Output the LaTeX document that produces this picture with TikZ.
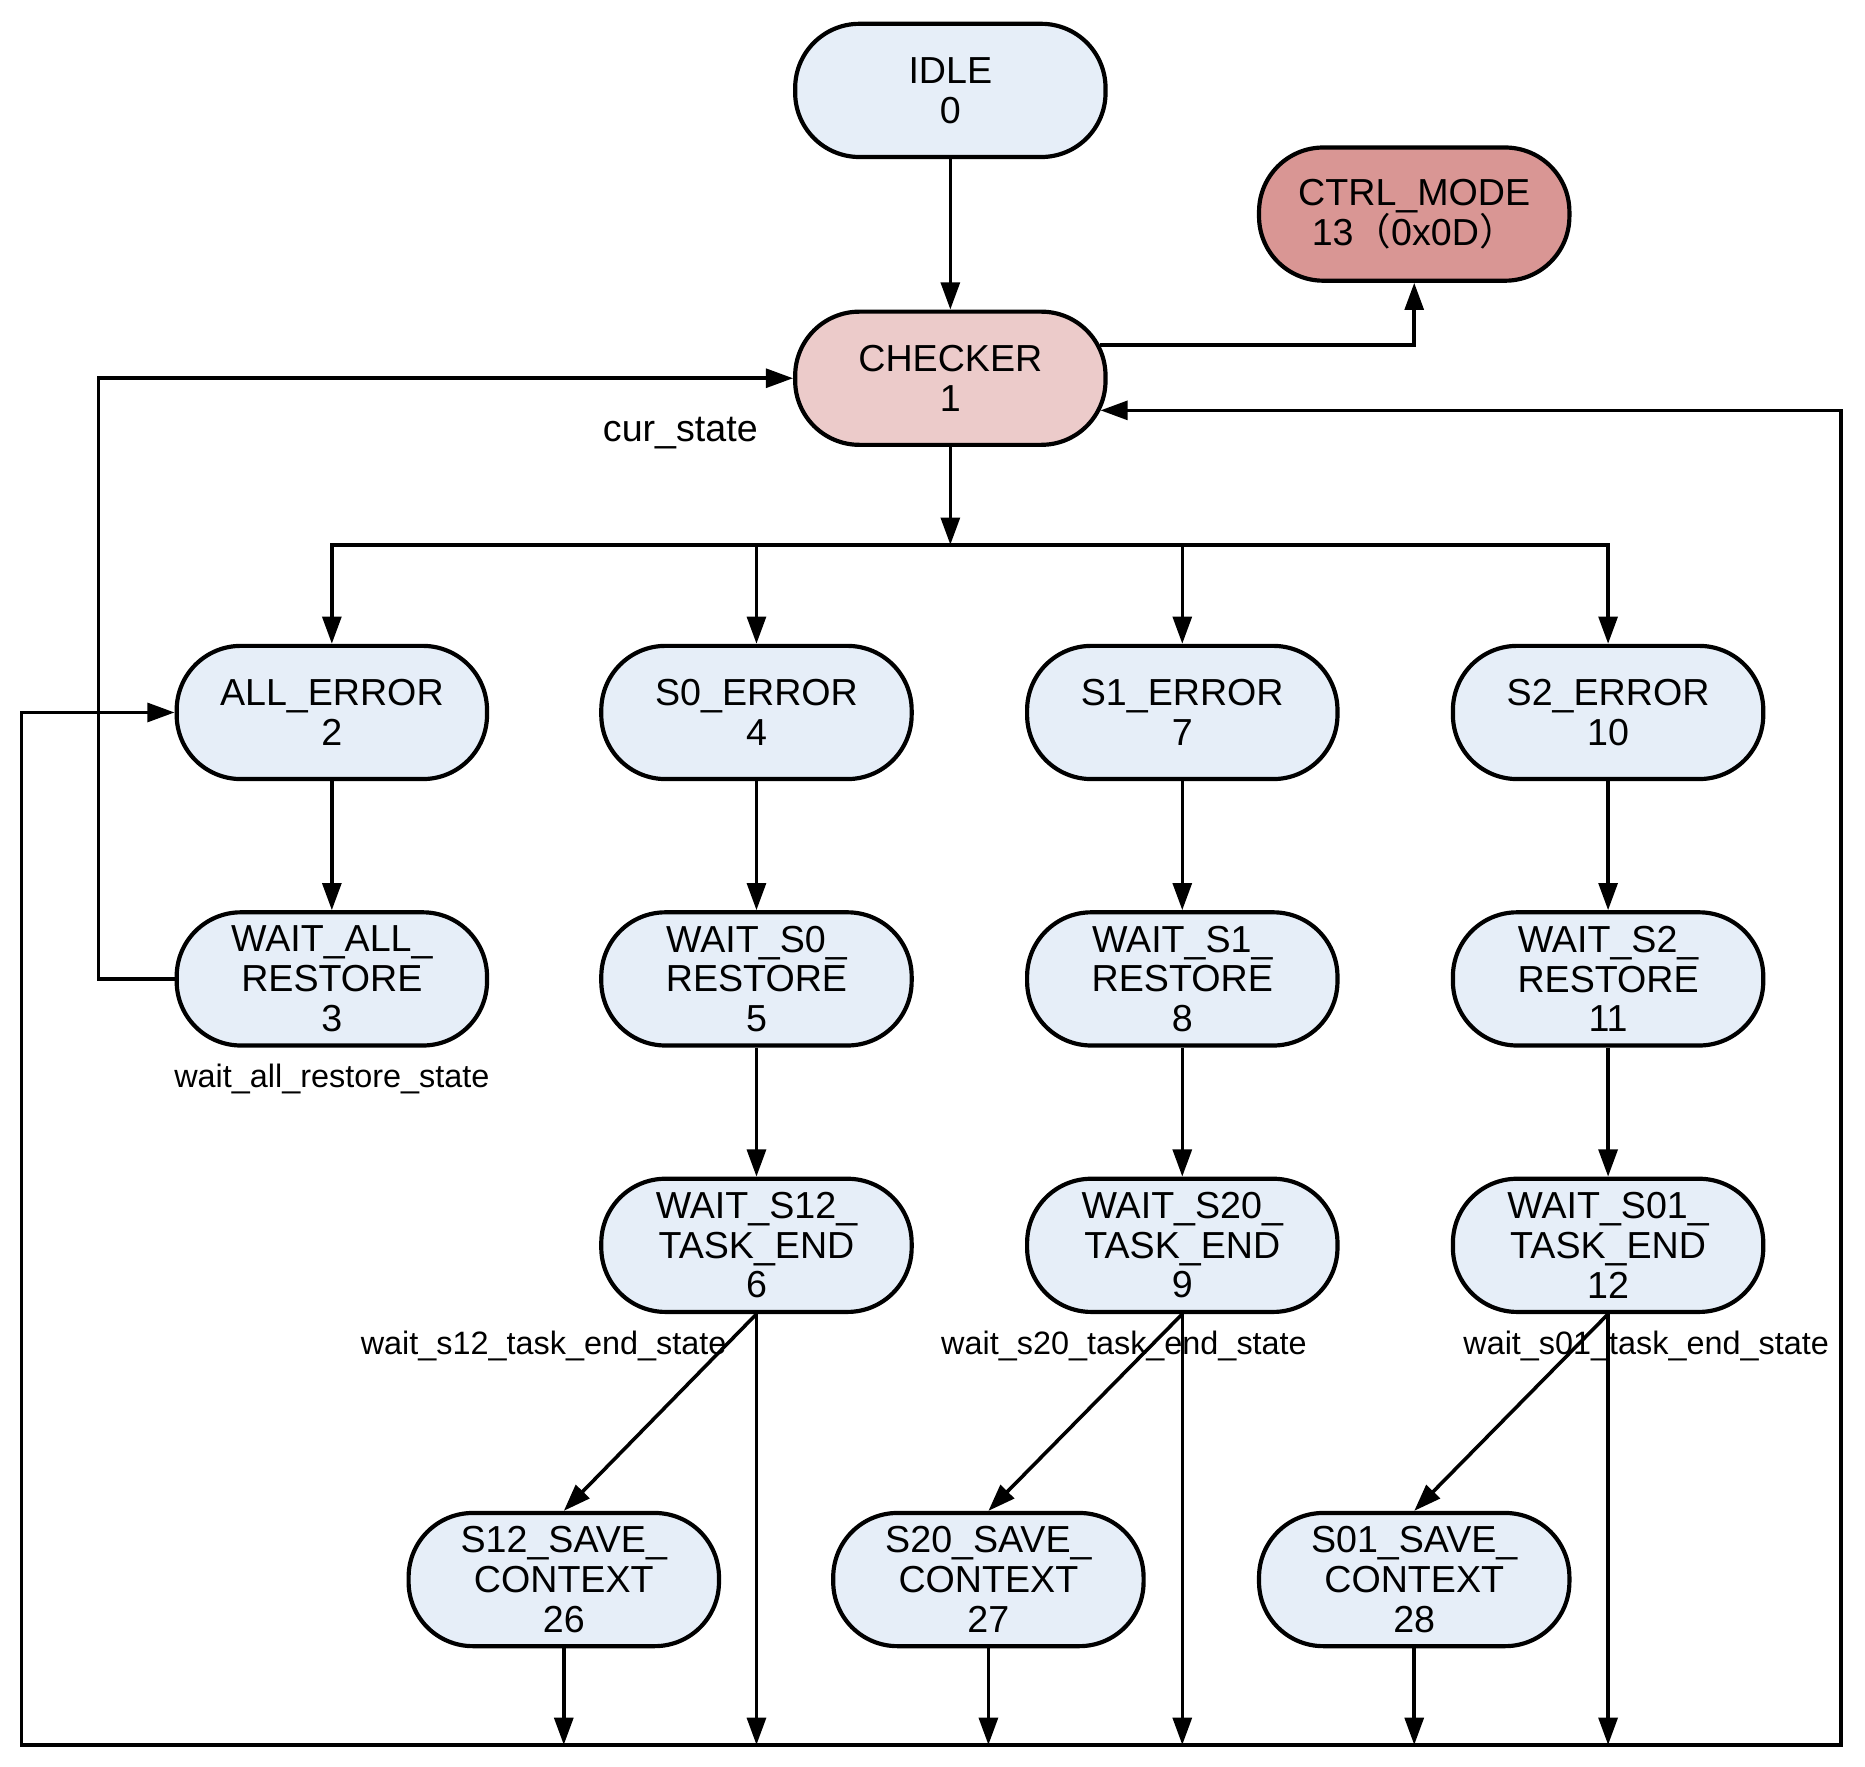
\documentclass[tikz,border=0pt]{standalone}
\usepackage{fontspec}
\setmainfont{Liberation Sans}
\newfontfamily\cjk{Noto Sans CJK SC}
\usetikzlibrary{arrows.meta,calc}
\definecolor{nblue}{HTML}{E6EEF8}
\definecolor{npink}{HTML}{ECCBCA}
\definecolor{nred}{HTML}{D99694}
\begin{document}
\begin{tikzpicture}[x=0.02cm,y=-0.02cm,
  state/.style={draw=black, line width=2pt, fill=nblue, rounded corners=1.08cm,
    minimum width=5.22cm, minimum height=2.24cm, align=center, inner sep=0pt,
    font=\fontsize{18}{19}\selectfont},
  conn/.style={line width=1.7pt, draw=black},
  arr/.style={conn, -{Triangle[length=13pt,width=9pt]}},
  lbl/.style={font=\fontsize{15.5}{17}\selectfont, anchor=base, inner sep=0pt}]
\useasboundingbox (0,0) rectangle (1568,1485);

% labels (drawn first, lines cross over them)
\node[lbl, font=\fontsize{18}{19}\selectfont] (lcur) at (572,371) {cur\_state};
\node[lbl] (lwar) at (279,914) {wait\_all\_restore\_state};
\node[lbl] (l12) at (457,1139) {wait\_s12\_task\_end\_state};
\node[lbl] (l20) at (945,1139) {wait\_s20\_task\_end\_state};
\node[lbl] (l01) at (1384,1139) {wait\_s01\_task\_end\_state};

% states
\node[state] (idle) at (799,76) {IDLE\\0};
\node[state, fill=npink] (chk) at (799,318) {CHECKER\\1};
\node[state, fill=nred] (ctrl) at (1189,180) {CTRL\_MODE\\13{\cjk （}0x0D{\cjk ）}};

\node[state] (e2) at (279,599) {ALL\_ERROR\\2};
\node[state] (e4) at (636,599) {S0\_ERROR\\4};
\node[state] (e7) at (994,599) {S1\_ERROR\\7};
\node[state] (e10) at (1352,599) {S2\_ERROR\\10};

\node[state] (w3) at (279,823) {WAIT\_ALL\_\\RESTORE\\3};
\node[state] (w5) at (636,823) {WAIT\_S0\_\\RESTORE\\5};
\node[state] (w8) at (994,823) {WAIT\_S1\_\\RESTORE\\8};
\node[state] (w11) at (1352,823) {WAIT\_S2\_\\RESTORE\\11};

\node[state] (w6) at (636,1047) {WAIT\_S12\_\\TASK\_END\\6};
\node[state] (w9) at (994,1047) {WAIT\_S20\_\\TASK\_END\\9};
\node[state] (w12) at (1352,1047) {WAIT\_S01\_\\TASK\_END\\12};

\node[state] (s26) at (474,1328) {S12\_SAVE\_\\CONTEXT\\26};
\node[state] (s27) at (831,1328) {S20\_SAVE\_\\CONTEXT\\27};
\node[state] (s28) at (1189,1328) {S01\_SAVE\_\\CONTEXT\\28};

% coordinates
\coordinate (split) at (799,458);
\coordinate (bl) at (18,1467);
\coordinate (br) at (1548,1467);
\coordinate (lx) at (83,0);
\coordinate (chkout) at ($(chk.east)+(-6,-28)$);
\coordinate (chkin) at ($(chk.east)+(-6,27)$);

% connectors
\draw[arr] (idle) -- (chk);
\draw[arr] (chkout) -| (ctrl.south);
\draw[arr] (chk) -- (split);
\draw[conn, line cap=rect] (e2.north |- split) -- (e10.north |- split);
\foreach \e in {e2,e4,e7,e10}{
  \draw[arr] (\e.north |- split) -- (\e.north);
}
\draw[arr] (e2) -- (w3);
\draw[arr] (e4) -- (w5);
\draw[arr] (w5) -- (w6);
\draw[arr] (e7) -- (w8);
\draw[arr] (w8) -- (w9);
\draw[arr] (e10) -- (w11);
\draw[arr] (w11) -- (w12);

\draw[arr] (w6.south) -- (s26.north);
\draw[arr] (w9.south) -- (s27.north);
\draw[arr] (w12.south) -- (s28.north);

\foreach \n in {s26,s27,s28,w6,w9,w12}{
  \draw[arr] (\n.south) -- (\n.south |- bl);
}

\draw[arr, line cap=rect] (w3.west) -- (w3.west -| lx) -- (chk.west -| lx) -- (chk.west);
\draw[arr, line cap=rect] (bl) -- (bl |- e2.west) -- (e2.west);
\draw[arr, line cap=rect] (bl) -- (br) -- (br |- chkin) -- (chkin);
\end{tikzpicture}
\end{document}
